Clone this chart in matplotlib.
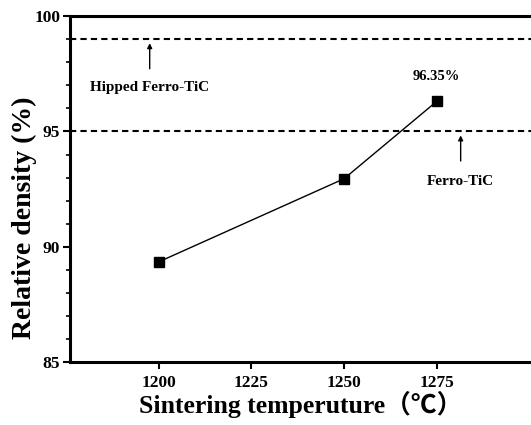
import matplotlib
matplotlib.use("Agg")
import matplotlib.pyplot as plt
from matplotlib.ticker import MultipleLocator

temps = [1200, 1250, 1275]
density = [89.35, 92.95, 96.3]
hipped_level = 99
ferro_level = 95
x_ticks = [1200, 1225, 1250, 1275]
y_ticks = [85, 90, 95, 100]

serif = ['Liberation Serif', 'DejaVu Serif']

fig = plt.figure(figsize=(5.31, 4.25), dpi=100)
ax = fig.add_axes([0.132, 0.148, 0.868, 0.814])

ax.plot(temps, density, color='black', lw=1.0, marker='s', ms=7.5,
        markerfacecolor='black', markeredgecolor='black', zorder=3)
ax.axhline(hipped_level, color='black', lw=1.5, ls=(0, (3, 2)))
ax.axhline(ferro_level, color='black', lw=1.5, ls=(0, (3, 2)))

ax.set_xlim(1176, 1300.5)
ax.set_ylim(85, 100)
ax.set_xticks(x_ticks)
ax.set_yticks(y_ticks)
ax.yaxis.set_minor_locator(MultipleLocator(1))

for lab in ax.get_xticklabels() + ax.get_yticklabels():
    lab.set_family(serif)
    lab.set_fontweight('bold')
    lab.set_fontsize(12.5)

ax.tick_params(axis='both', which='major', direction='out', length=5, width=1.5, pad=2)
ax.tick_params(axis='x', which='major', pad=4)
ax.tick_params(axis='y', which='minor', direction='out', length=3, width=1.2)

for side in ['left', 'bottom', 'top']:
    ax.spines[side].set_linewidth(2.2)
ax.spines['right'].set_visible(False)

ax.set_xlabel('Sintering temperuture（℃）', family=['Liberation Serif', 'Noto Sans CJK SC'],
              fontweight='bold', fontsize=18.5, labelpad=0.5)
ax.set_ylabel('Relative density (%)', family=serif, fontweight='bold', fontsize=20)
ax.yaxis.set_label_coords(-0.072, 0.416)

ax.annotate('', xy=(1197.5, hipped_level - 0.05), xytext=(1197.5, 97.6),
            arrowprops=dict(arrowstyle='-|>', color='black', lw=1.0, mutation_scale=7))
ax.text(1197.5, 96.9, 'Hipped Ferro-TiC', family=serif, fontweight='bold', fontsize=11,
        ha='center', va='center')

ax.annotate('', xy=(1281.5, ferro_level - 0.05), xytext=(1281.5, 93.6),
            arrowprops=dict(arrowstyle='-|>', color='black', lw=1.0, mutation_scale=7))
ax.text(1281.5, 92.85, 'Ferro-TiC', family=serif, fontweight='bold', fontsize=11,
        ha='center', va='center')

ax.text(1275, 97.4, '96.35%', family=serif, fontweight='bold', fontsize=10.5,
        ha='center', va='center')

fig.savefig('out.png', dpi=100)
